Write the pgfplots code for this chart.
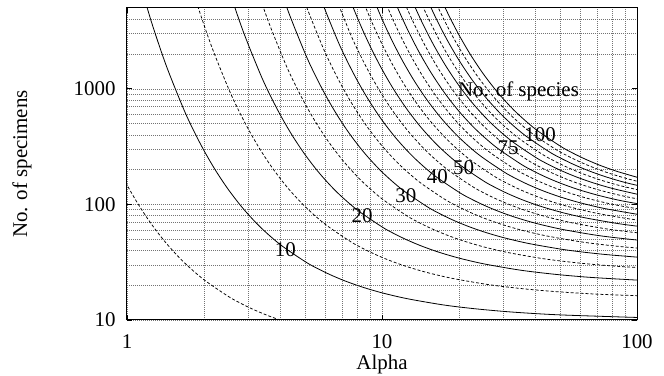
\documentclass[border=0pt]{standalone}
\usepackage{pgfplots}
\pgfplotsset{compat=1.18}
\usepackage{fontspec}
\setmainfont{Liberation Serif}
\newcommand{\ff}{\fontsize{21}{25}\selectfont}
\begin{document}
\begin{tikzpicture}[font=\ff]
\useasboundingbox (-127bp,-56bp) rectangle (537bp,320bp);
\begin{axis}[
  at={(0,0)}, anchor=south west,
  scale only axis, width=510bp, height=312bp,
  xmode=log, ymode=log,
  xmin=1, xmax=100, ymin=10, ymax=5000,
  xtick={1,10,100}, xticklabels={1,10,100},
  ytick={10,100,1000}, yticklabels={10,100,1000},
  minor xtick={2,3,4,5,6,7,8,9,20,30,40,50,60,70,80,90},
  minor ytick={20,30,40,50,60,70,80,90,200,300,400,500,600,700,800,900,2000,3000,4000},
  xmajorgrids, xminorgrids, ymajorgrids, yminorgrids,
  grid style={black!55, line width=0.5bp, dash pattern=on 1bp off 1bp},
  major tick length=5bp, minor tick length=0pt,
  tick style={black, line width=0.8bp},
  axis line style={line width=1bp},
  /pgf/number format/assume math mode=true,
  tick label style={font=\ff},
  xticklabel style={anchor=base, yshift=-28bp},
  yticklabel style={anchor=east, xshift=-8bp},
  label style={font=\ff},
  xlabel={Alpha}, ylabel={No. of specimens},
  xlabel style={at={(axis description cs:0.5,0)}, anchor=base, yshift=-49bp},
  ylabel style={at={(axis description cs:-0.206,0.5)}, anchor=center},
  sol/.style={black, line width=0.8bp, smooth},
  dsh/.style={black, line width=0.75bp, dash pattern=on 3bp off 2bp, smooth},
]
% S = 5
\addplot[dsh] coordinates {(0.9091,221.5)(1,147.4)(1.1111,98.91)(1.25,67.00)(1.4286,45.88)(1.6667,31.81)(2,22.37)(2.5,15.97)(2.7778,14.03)(3.125,12.35)(3.5714,10.91)(4.1667,9.667)(5,8.591)};
% S = 10
\addplot[sol] coordinates {(1.1111,9002)(1.25,3725)(1.4286,1565.2)(1.6667,670.7)(1.8182,443.1)(2,294.8)(2.2222,197.8)(2.5,134.0)(2.8571,91.76)(3.3333,63.62)(4,44.73)(5,31.95)(5.5556,28.05)(6.25,24.71)(7.1429,21.82)(8.3333,19.33)(10,17.18)(12.5,15.32)(16.667,13.70)(20,12.97)(25,12.30)(33.333,11.66)(50,11.07)(100,10.52)};
% S = 15
\addplot[dsh] coordinates {(1.6667,13503)(1.875,5587)(2.1429,2348)(2.5,1006.1)(2.7273,664.6)(3,442.2)(3.3333,296.7)(3.75,201.0)(4.2857,137.6)(5,95.43)(6,67.10)(7.5,47.92)(8.3333,42.08)(9.375,37.06)(10.714,32.73)(12.5,29.00)(15,25.77)(18.75,22.98)(25,20.55)(30,19.46)(37.5,18.44)(50,17.49)(75,16.61)(150,15.78)};
% S = 20
\addplot[sol] coordinates {(2.2222,18005)(2.5,7450)(2.8571,3130)(3.3333,1341.4)(3.6364,886.2)(4,589.7)(4.4444,395.6)(5,268.0)(5.7143,183.5)(6.6667,127.2)(8,89.46)(10,63.89)(11.111,56.11)(12.5,49.41)(14.286,43.65)(16.667,38.67)(20,34.37)(25,30.64)(33.333,27.40)(40,25.95)(50,24.59)(66.667,23.32)(100,22.14)};
% S = 25
\addplot[dsh] coordinates {(2.7778,22506)(3.125,9312)(3.5714,3913)(4.1667,1676.8)(4.5455,1107.7)(5,737.1)(5.5556,494.6)(6.25,335.0)(7.1429,229.4)(8.3333,159.0)(10,111.8)(12.5,79.86)(13.889,70.13)(15.625,61.77)(17.857,54.56)(20.833,48.34)(25,42.96)(31.25,38.30)(41.667,34.26)(50,32.44)(62.5,30.74)(83.333,29.16)(125,27.68)};
% S = 30
\addplot[sol] coordinates {(3.75,11175)(4.2857,4696)(5,2012.1)(5.4545,1329.2)(6,884.5)(6.6667,593.5)(7.5,402.0)(8.5714,275.3)(10,190.9)(12,134.2)(15,95.84)(16.667,84.16)(18.75,74.12)(21.429,65.47)(25,58.00)(30,51.55)(37.5,45.96)(50,41.11)(60,38.92)(75,36.89)(100,34.99)};
% S = 35
\addplot[dsh] coordinates {(4.375,13037)(5,5478)(5.8333,2347.5)(6.3636,1550.8)(7,1031.9)(7.7778,692.4)(8.75,469.0)(10,321.2)(11.667,222.7)(14,156.6)(17.5,111.8)(19.444,98.19)(21.875,86.47)(25,76.38)(29.167,67.67)(35,60.14)(43.75,53.62)(58.333,47.96)(70,45.41)(87.5,43.04)(116.67,40.82)};
% S = 40
\addplot[sol] coordinates {(5,14900)(5.7143,6261)(6.6667,2682.9)(7.2727,1772.3)(8,1179.3)(8.8889,791.3)(10,536.0)(11.429,367.0)(13.333,254.5)(16,178.9)(20,127.8)(22.222,112.2)(25,98.83)(28.571,87.29)(33.333,77.34)(40,68.73)(50,61.28)(66.667,54.81)(80,51.90)(100,49.18)};
% S = 45
\addplot[dsh] coordinates {(6.4286,7043)(7.5,3018.2)(8.1818,1993.9)(9,1326.7)(10,890.2)(11.25,603.0)(12.857,412.9)(15,286.3)(18,201.3)(22.5,143.8)(25,126.2)(28.125,111.2)(32.143,98.20)(37.5,87.00)(45,77.32)(56.25,68.94)(75,61.66)(90,58.38)(112.5,55.33)};
% S = 50
\addplot[sol] coordinates {(7.1429,7826)(7.6923,5109)(8.3333,3353.6)(9.0909,2215.4)(10,1474.1)(11.111,989.1)(12.5,670.0)(14.286,458.8)(16.667,318.1)(20,223.7)(25,159.7)(27.778,140.3)(31.25,123.5)(35.714,109.1)(41.667,96.67)(50,85.91)(62.5,76.60)(83.333,68.51)(100,64.87)};
% S = 55
\addplot[dsh] coordinates {(7.8571,8609)(8.4615,5620)(9.1667,3689.0)(10,2436.9)(11,1621.6)(12.222,1088.0)(13.75,737.0)(15.714,504.7)(18.333,349.9)(22,246.0)(27.5,175.7)(30.556,154.3)(34.375,135.9)(39.286,120.0)(45.833,106.3)(55,94.51)(68.75,84.25)(91.667,75.36)(110,71.36)};
% S = 60
\addplot[sol] coordinates {(8.5714,9391)(9.2308,6131)(10,4024.3)(10.909,2658.5)(12,1769.0)(13.333,1186.9)(15,804.0)(17.143,550.5)(20,381.7)(24,268.4)(30,191.7)(33.333,168.3)(37.5,148.2)(42.857,130.9)(50,116.0)(60,103.1)(75,91.91)(100,82.21)};
% S = 65
\addplot[dsh] coordinates {(9.2857,10174)(10,6642)(10.833,4359.6)(11.818,2880.0)(13,1916.4)(14.444,1285.8)(16.25,871.0)(18.571,596.4)(21.667,413.5)(26,290.7)(32.5,207.6)(36.111,182.4)(40.625,160.6)(46.429,141.8)(54.167,125.7)(65,111.7)(81.25,99.57)(108.33,89.06)};
% S = 70
\addplot[sol] coordinates {(10,10957)(10.769,7153)(11.667,4695.0)(12.727,3101.6)(14,2063.8)(15.556,1384.7)(17.5,938.0)(20,642.3)(23.333,445.3)(28,313.1)(35,223.6)(38.889,196.4)(43.75,172.9)(50,152.8)(58.333,135.3)(70,120.3)(87.5,107.2)(116.67,95.91)};
% S = 75
\addplot[dsh] coordinates {(10.714,11739)(11.538,7664)(12.5,5030.4)(13.636,3323.1)(15,2211.2)(16.667,1483.6)(18.75,1005.0)(21.429,688.2)(25,477.1)(30,335.5)(37.5,239.6)(41.667,210.4)(46.875,185.3)(53.571,163.7)(62.5,145.0)(75,128.9)(93.75,114.9)(125,102.8)};
% S = 80
\addplot[sol] coordinates {(11.429,12522)(12.308,8174)(13.333,5365.7)(14.545,3544.6)(16,2358.6)(17.778,1582.5)(20,1072.0)(22.857,734.1)(26.667,509.0)(32,357.8)(40,255.6)(44.444,224.4)(50,197.7)(57.143,174.6)(66.667,154.7)(80,137.5)(100,122.6)};
% S = 85
\addplot[dsh] coordinates {(12.143,13304)(13.077,8685)(14.167,5701.1)(15.455,3766.1)(17,2506.0)(18.889,1681.4)(21.25,1139.0)(24.286,779.9)(28.333,540.8)(34,380.2)(42.5,271.5)(47.222,238.5)(53.125,210.0)(60.714,185.5)(70.833,164.3)(85,146.1)(106.25,130.2)};
% S = 90
\addplot[sol] coordinates {(12.857,14087)(13.846,9196)(15,6036.4)(16.364,3987.7)(18,2653.4)(20,1780.3)(22.5,1206.0)(25.714,825.8)(30,572.6)(36,402.6)(45,287.5)(50,252.5)(56.25,222.4)(64.286,196.4)(75,174.0)(90,154.6)(112.5,137.9)};
% S = 95
\addplot[dsh] coordinates {(13.571,14869)(14.615,9707)(15.833,6371.8)(17.273,4209.3)(19,2800.8)(21.111,1879.3)(23.75,1273.0)(27.143,871.7)(31.667,604.4)(38,424.9)(47.5,303.5)(52.778,266.5)(59.375,234.7)(67.857,207.3)(79.167,183.7)(95,163.2)(118.75,145.5)};
% S = 100
\addplot[sol] coordinates {(14.286,15652)(15.385,10218)(16.667,6707.2)(18.182,4430.8)(20,2948.3)(22.222,1978.2)(25,1340.0)(28.571,917.6)(33.333,636.2)(40,447.3)(50,319.5)(55.556,280.5)(62.5,247.1)(71.429,218.2)(83.333,193.3)(100,171.8)};
% curve labels
\node[font=\ff, inner sep=0pt, anchor=center] at (axis cs:4.18,40.4) {10};
\node[font=\ff, inner sep=0pt, anchor=center] at (axis cs:8.35,80.3) {20};
\node[font=\ff, inner sep=0pt, anchor=center] at (axis cs:12.4,119.7) {30};
\node[font=\ff, inner sep=0pt, anchor=center] at (axis cs:16.5,174.8) {40};
\node[font=\ff, inner sep=0pt, anchor=center] at (axis cs:20.9,209) {50};
\node[font=\ff, inner sep=0pt, anchor=center] at (axis cs:31.2,311) {75};
\node[font=\ff, inner sep=0pt, anchor=center] at (axis cs:41.7,403.6) {100};
\node[font=\ff, inner sep=0pt, anchor=base] at (axis cs:34.3,853) {No. of species};
\end{axis}
\end{tikzpicture}
\end{document}
